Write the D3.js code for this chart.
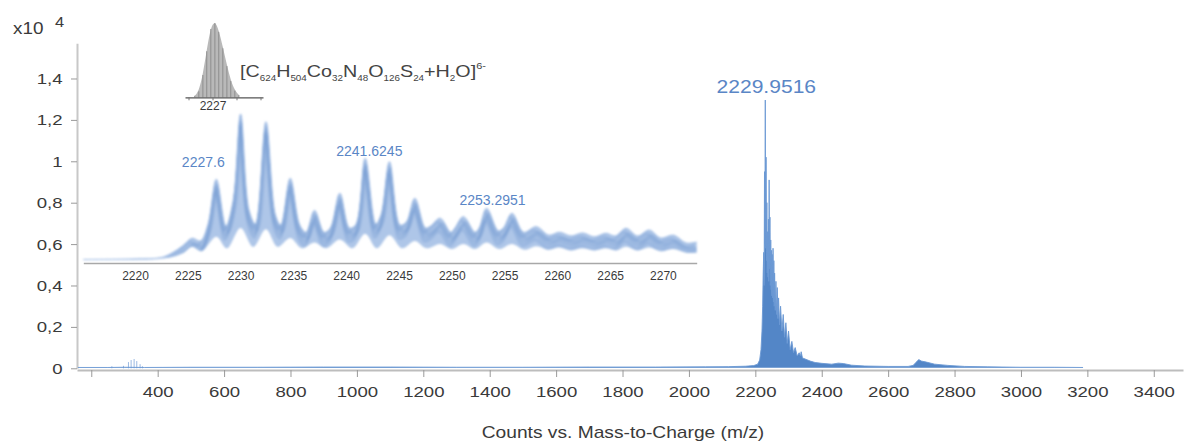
<!DOCTYPE html>
<html>
<head>
<meta charset="utf-8">
<script src="https://cdn.jsdelivr.net/npm/d3@7"></script>
<style>
  body { margin: 0; background: #fff; }
  svg { display: block; font-family: "Liberation Sans", Arial, Helvetica, sans-serif; }
</style>
</head>
<body>
<svg id="chart" width="1187" height="444"></svg>
<script>
// ---------- full-range spectrum: [m/z, counts x10^4] ----------
const spectrum = [
  [160,0.004],[250,0.004],[300,0.005],[360,0.004],[500,0.005],[700,0.005],[900,0.006],
  [1100,0.006],[1300,0.005],[1500,0.005],[1700,0.006],[1900,0.006],[2050,0.007],[2120,0.008],
  [2170,0.010],[2195,0.013],[2207,0.02],[2213,0.04],[2217,0.09],[2220,0.18],[2222,0.3],
  [2223.5,0.45],[2225.2,0.56],[2226.4,0.4],[2227.6,0.95],[2228.8,0.6],[2229.95,1.296],
  [2231.1,0.58],[2232.3,1.02],[2233.5,0.52],[2234.7,0.8],[2235.9,0.46],[2237,0.66],
  [2238.2,0.44],[2239.4,0.72],[2240.5,0.42],[2241.6,0.91],[2242.8,0.48],[2244,0.73],
  [2245.2,0.4],[2246.4,0.62],[2247.6,0.38],[2248.8,0.57],[2250,0.35],[2251.1,0.55],
  [2252.2,0.34],[2253.3,0.58],[2254.5,0.32],[2255.7,0.52],[2257,0.3],[2258,0.46],
  [2260,0.28],[2262,0.42],[2264,0.26],[2266,0.39],[2268,0.24],[2270,0.34],[2273,0.21],
  [2276,0.3],[2280,0.18],[2284,0.26],[2288,0.15],[2292,0.22],[2296,0.12],[2300,0.18],
  [2305,0.09],[2310,0.13],[2315,0.075],[2320,0.1],[2326,0.06],[2332,0.075],[2336,0.06],
  [2338,0.08],[2342,0.05],[2350,0.045],[2365,0.035],[2380,0.028],[2400,0.024],[2430,0.02],
  [2450,0.025],[2465,0.023],[2490,0.015],[2530,0.011],[2600,0.009],[2660,0.009],[2675,0.014],
  [2685,0.03],[2692,0.042],[2700,0.035],[2715,0.03],[2740,0.02],[2780,0.014],[2830,0.009],
  [2900,0.007],[3000,0.005],[3100,0.005],[3187,0.004]
];
// low-mass fragment sticks
const lowMassPeaks = [[262,0.01],[297,0.012],[312,0.03],[320,0.04],[329,0.045],[337,0.035],[347,0.02],[354,0.01]];

const xTicks = [200,400,600,800,1000,1200,1400,1600,1800,2000,2200,2400,2600,2800,3000,3200,3400];
const yTicks = [0,0.2,0.4,0.6,0.8,1,1.2,1.4];
const basePeak = { mz: 2229.95, counts: 1.296, label: "2229.9516" };

// ---------- zoomed isotope cluster (relative intensity, %) ----------
const insetTicks = [2220,2225,2230,2235,2240,2245,2250,2255,2260,2265,2270];
const insetUpper = [
  [2215.1,0.3],[2220,0.7],[2222.5,1.7],[2223.5,4.8],[2224.5,9.6],[2225.4,14.9],[2226.2,13],
  [2226.9,24],[2227.7,55.3],[2228.6,23.3],[2229.3,41],[2230.0,100],[2230.8,34],[2231.4,24.7],
  [2232.4,94.7],[2233.3,30.8],[2233.8,24],[2234.7,56],[2235.6,24],[2236.2,19],[2237.0,34],
  [2237.9,19],[2238.5,22],[2239.4,45.7],[2240.3,22],[2240.9,24],[2241.8,69.7],[2242.8,24.7],
  [2243.3,31],[2244.1,67.3],[2245.1,24],[2245.7,26],[2246.5,42.3],[2247.5,22],[2248.0,23.3],
  [2248.9,28.6],[2249.9,19],[2250.3,22],[2251.1,29.7],[2252.2,19],[2252.6,22],[2253.3,35.4],
  [2254.4,20],[2254.9,22],[2255.7,32],[2256.8,19],[2258.0,22.8],[2259.2,17],[2260.2,19],
  [2261.3,16.4],[2262.4,18.5],[2263.5,15.8],[2264.6,18.3],[2265.5,16.4],[2266.5,21.7],
  [2267.6,16.4],[2268.7,20.5],[2269.8,15],[2271.0,17],[2272.2,11.6],[2273.2,12.3]
];
const insetLower = [
  [2215.1,0],[2222,0.5],[2223.5,2],[2224.6,5],[2225.4,9],[2226.3,6],[2227.7,16],[2228.7,8],
  [2230.0,22],[2231.2,9],[2232.4,21],[2233.5,9],[2234.7,15],[2235.8,8],[2237.0,12],[2238.1,8],
  [2239.4,14],[2240.6,8],[2241.8,18],[2242.9,8],[2244.1,17],[2245.3,8],[2246.5,13],[2247.6,8],
  [2248.9,11],[2250.0,7.5],[2251.1,11],[2252.2,7.5],[2253.3,12],[2254.5,7.5],[2255.7,11],
  [2256.9,7],[2258.0,9.5],[2259.2,7],[2260.2,8.5],[2261.3,6.5],[2262.4,8],[2263.5,6.5],
  [2264.6,8],[2265.6,6.5],[2266.5,9],[2267.6,6.5],[2268.7,8.5],[2269.8,6],[2271.0,7.5],
  [2272.2,5],[2273.2,5]
];
const insetLabels = [
  { mz: 2227.6, rel: 55.3, text: "2227.6" },
  { mz: 2241.6245, rel: 69.7, text: "2241.6245" },
  { mz: 2253.2951, rel: 35.4, text: "2253.2951" }
];

// ---------- simulated isotope distribution ----------
const isoMz  = [2226.26,2226.43,2226.60,2226.76,2226.93,2227.10,2227.26,2227.43,2227.60,2227.76,2227.93,2228.10];
const isoRel = [2,8,30,62,92,100,88,66,42,22,9,3];
const isoTicks = [2226,2227,2228,2229];
const isoTickLabels = ["", "2227", "", ""];

const svg = d3.select("#chart");
const textGray = "#3a3a3a";
const blue = "#4a7fc4";
const labelBlue = "#5a86c6";

// ================= main chart =================
const x = d3.scaleLinear().domain([157, 3488]).range([77, 1183]);
const y = d3.scaleLinear().domain([0, 1.57]).range([368.3, 43.3]);
const comma = d3.formatLocale({ decimal: ",", thousands: ".", grouping: [3], currency: ["", ""] });
const yFmt = d => d === 0 ? "0" : comma.format("~g")(d);

const gy = svg.append("g").attr("transform", "translate(77,0)")
  .call(d3.axisLeft(y).tickValues(yTicks).tickFormat(yFmt).tickSize(6).tickSizeOuter(0).tickPadding(6));
gy.select(".domain").attr("stroke", "#c8c8c8").attr("stroke-width", 2);
gy.selectAll(".tick line").attr("stroke", "#9a9a9a");
gy.selectAll(".tick text").attr("fill", textGray).style("font-size", "15.5px")
  .attr("transform", "scale(1.2,1)");

const gx = svg.append("g").attr("transform", "translate(0,370)")
  .call(d3.axisBottom(x).tickValues(xTicks).tickFormat(d => d === 200 ? "" : d).tickSize(7).tickSizeOuter(0).tickPadding(9));
gx.select(".domain").attr("stroke", "#bdbdbd").attr("stroke-width", 2);
gx.selectAll(".tick line").attr("stroke", "#9a9a9a");
gx.selectAll(".tick text").attr("fill", textGray).style("font-size", "15.5px")
  .attr("transform", "scale(1.2,1)");

// axis title
svg.append("text").attr("transform", "translate(623,438) scale(1.2,1)")
  .attr("text-anchor", "middle").attr("fill", textGray).style("font-size", "16px")
  .text("Counts vs. Mass-to-Charge (m/z)");

// y multiplier
svg.append("text").attr("transform", "translate(13,34) scale(1.18,1)")
  .attr("fill", textGray).style("font-size", "16px").text("x10");
svg.append("text").attr("transform", "translate(55,27) scale(1.1,1)")
  .attr("fill", textGray).style("font-size", "15px").text("4");

// low-mass sticks
svg.append("g").selectAll("line").data(lowMassPeaks).join("line")
  .attr("x1", d => x(d[0])).attr("x2", d => x(d[0]))
  .attr("y1", y(0)).attr("y2", d => y(d[1]))
  .attr("stroke", "#9bb9e2").attr("stroke-width", 1);

// spectrum
const area = d3.area().x(d => x(d[0])).y0(y(0) - 0.5).y1(d => y(d[1]));
const line = d3.line().x(d => x(d[0])).y(d => y(d[1]));
svg.append("path").datum(spectrum).attr("d", area).attr("fill", blue).attr("fill-opacity", 0.95);
svg.append("path").datum(spectrum).attr("d", line).attr("fill", "none")
  .attr("stroke", "#6b98d4").attr("stroke-width", 0.9);

svg.append("text")
  .attr("transform", `translate(${x(basePeak.mz) + 1},92.5) scale(1.17,1)`)
  .attr("text-anchor", "middle").attr("fill", labelBlue).style("font-size", "18px")
  .text(basePeak.label);

// ================= inset: zoomed cluster =================
const xi = d3.scaleLinear().domain([2215.1, 2273.2]).range([83.3, 696.7]);
const yi = d3.scaleLinear().domain([0, 100]).range([260, 114]);

const gi = svg.append("g").attr("transform", "translate(0,263)")
  .call(d3.axisBottom(xi).tickValues(insetTicks).tickFormat(d3.format("d")).tickSize(0).tickSizeOuter(0).tickPadding(8));
gi.select(".domain").attr("stroke", "#a8a8a8").attr("stroke-width", 1.6);
gi.selectAll(".tick text").attr("fill", textGray).style("font-size", "12px");

const defs = svg.append("defs");
defs.append("filter").attr("id", "soft").attr("x", "-5%").attr("y", "-20%").attr("width", "110%").attr("height", "140%")
  .append("feGaussianBlur").attr("stdDeviation", 1.0);

const upperLine = d3.line().x(d => xi(d[0])).y(d => yi(d[1])).curve(d3.curveCatmullRom.alpha(0.5));
const ribbonPath = upperLine(insetUpper) + "L" + upperLine(insetLower.slice().reverse()).slice(1) + "Z";
defs.append("clipPath").attr("id", "band").append("path").attr("d", ribbonPath);

const ribbon = svg.append("g").attr("filter", "url(#soft)");
ribbon.append("path").attr("d", ribbonPath).attr("fill", "#aec6e8");
// overlapping traces inside the band
const traces = ribbon.append("g").attr("clip-path", "url(#band)");
[[-2, 4], [2, 6], [0, 9], [-1, 13]].forEach(([dx, dy]) => {
  traces.append("path").datum(insetUpper).attr("d", upperLine)
    .attr("transform", `translate(${dx},${dy})`)
    .attr("fill", "none").attr("stroke", "#6f97d1").attr("stroke-opacity", 0.3).attr("stroke-width", 3.5);
});
ribbon.append("path").datum(insetUpper).attr("d", upperLine)
  .attr("fill", "none").attr("stroke", "#9ab8e3").attr("stroke-width", 1);

const labelShift = [[-12, -12], [6, -2], [6, -3]];
svg.append("g").selectAll("text").data(insetLabels).join("text")
  .attr("x", (d, i) => xi(d.mz) + labelShift[i][0]).attr("y", (d, i) => yi(d.rel) + labelShift[i][1])
  .attr("text-anchor", "middle").attr("fill", labelBlue).style("font-size", "14px")
  .text(d => d.text);

// ================= simulated isotope pattern =================
const xm = d3.scaleLinear().domain([2225.854, 2229.104]).range([185, 263]);
const ym = d3.scaleLinear().domain([0, 100]).range([97.3, 20.7]);
const iso = isoMz.map((m, i) => [m, isoRel[i]]);

svg.append("path").datum(iso)
  .attr("d", d3.area().x(d => xm(d[0])).y0(ym(0)).y1(d => ym(d[1])).curve(d3.curveBasis))
  .attr("fill", "#b9b9b9");
svg.append("g").selectAll("line").data(iso).join("line")
  .attr("x1", d => xm(d[0])).attr("x2", d => xm(d[0]))
  .attr("y1", ym(0)).attr("y2", d => ym(d[1] * 0.97))
  .attr("stroke", "#8e8e8e").attr("stroke-width", 1);

const gm = svg.append("g").attr("transform", `translate(0,${ym(0)})`)
  .call(d3.axisBottom(xm).tickValues(isoTicks).tickFormat((d, i) => isoTickLabels[i]).tickSize(3).tickSizeOuter(0).tickPadding(1));
gm.select(".domain").attr("stroke", "#555").attr("stroke-width", 1.3);
gm.selectAll(".tick line").attr("stroke", "#777");
gm.selectAll(".tick text").attr("fill", textGray).style("font-size", "12px");

// formula
const formula = svg.append("text").attr("transform", "translate(240,77) scale(1.16,1)")
  .attr("fill", "#444").style("font-size", "17px");
const parts = [
  ["[C", 0], ["624", 1], ["H", 0], ["504", 1], ["Co", 0], ["32", 1], ["N", 0], ["48", 1],
  ["O", 0], ["126", 1], ["S", 0], ["24", 1], ["+H", 0], ["2", 1], ["O]", 0], ["6-", 2]
];
let shift = 0;
parts.forEach(([t, kind]) => {
  const target = kind === 1 ? 3.5 : kind === 2 ? -8.5 : 0;
  formula.append("tspan").attr("dy", target - shift)
    .style("font-size", kind === 0 ? "17px" : kind === 1 ? "8.5px" : "9.5px").text(t);
  shift = target;
});
</script>
</body>
</html>
